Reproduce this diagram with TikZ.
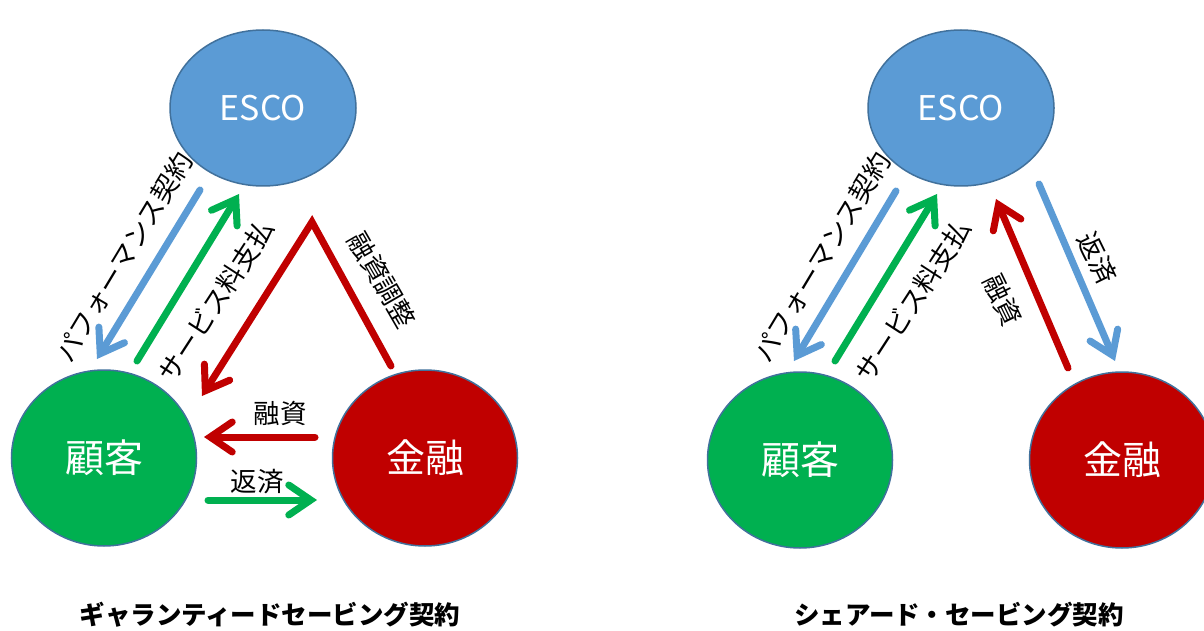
\documentclass[tikz,border=0pt]{standalone}
\usepackage{fontspec}
\setmainfont{Noto Sans CJK JP}
\usetikzlibrary{arrows.meta,shapes.geometric}
\definecolor{cblue}{HTML}{5B9BD5}
\definecolor{cgreen}{HTML}{00B050}
\definecolor{cred}{HTML}{C00000}
\definecolor{cedge}{HTML}{41719C}
\tikzset{
  party/.style={ellipse, draw=cedge, line width=1.5pt, minimum width=#1, text=white, font=\fontsize{39}{39}\selectfont},
  latinparty/.style={font=\fontsize{34}{34}\selectfont},
  flow/.style={line width=7pt, line cap=round, line join=miter, -{Straight Barb[length=22pt,width=30pt,line cap=round]}},
  lbl/.style={font=\fontsize{26.5}{26.5}\selectfont, text=black, inner sep=0pt},
  captxt/.style={font=\fontsize{25.5}{25.5}\selectfont\bfseries, inner sep=0pt}
}
\begin{document}
\begin{tikzpicture}[x=1pt,y=-1pt]
\clip (0,0) rectangle (1204,631);
\useasboundingbox (0,0) rectangle (1204,631);
\fill[white] (0,0) rectangle (1204,631);
% ---------- left diagram ----------
\node[party=186pt, minimum height=156pt, fill=cblue, latinparty] (escoL) at (263,108) {ESCO};
\node[party=185pt, minimum height=176pt, fill=cgreen] (kokyakuL) at (104,458) {顧客};
\node[party=185pt, minimum height=176pt, fill=cred] (kinyuL) at (425,458) {金融};
\coordinate (a1s) at (200,190); \coordinate (a1e) at (97,359);
\coordinate (a2s) at (137,361); \coordinate (a2e) at (239,194);
\coordinate (a3s) at (391,366); \coordinate (a3m) at (312,222); \coordinate (a3e) at (202,396);
\coordinate (a4s) at (315,437); \coordinate (a4e) at (204,437);
\coordinate (a5s) at (208,500); \coordinate (a5e) at (317,500);
\draw[flow, cblue] (a1s) -- (a1e);
\draw[flow, cgreen] (a2s) -- (a2e);
\draw[flow, cred] (a3s) -- (a3m) -- (a3e);
\draw[flow, cred] (a4s) -- (a4e);
\draw[flow, cgreen] (a5s) -- (a5e);
\node[lbl, rotate=59] (t1) at (124,257) {パフォーマンス契約};
\node[lbl, rotate=57] (t2) at (216,301) {サービス料支払};
\node[lbl, rotate=-60] (t3) at (382,280) {融資調整};
\node[lbl] (t4) at (280,413) {融資};
\node[lbl] (t5) at (257,482) {返済};
\node[captxt] (capL) at (270,615) {ギャランティードセービング契約};
% ---------- right diagram ----------
\node[party=186pt, minimum height=156pt, fill=cblue, latinparty] (escoR) at (961,108) {ESCO};
\node[party=185pt, minimum height=176pt, fill=cgreen] (kokyakuR) at (800,460) {顧客};
\node[party=185pt, minimum height=176pt, fill=cred] (kinyuR) at (1122,460) {金融};
\coordinate (b1s) at (896,191); \coordinate (b1e) at (794,361);
\coordinate (b2s) at (835,361); \coordinate (b2e) at (937,194);
\coordinate (b3s) at (1068,368); \coordinate (b3e) at (996,199);
\coordinate (b4s) at (1039,184); \coordinate (b4e) at (1115,361);
\draw[flow, cblue] (b1s) -- (b1e);
\draw[flow, cgreen] (b2s) -- (b2e);
\draw[flow, cred] (b3s) -- (b3e);
\draw[flow, cblue] (b4s) -- (b4e);
\node[lbl, rotate=59] (u1) at (822,257) {パフォーマンス契約};
\node[lbl, rotate=57] (u2) at (913,301) {サービス料支払};
\node[lbl, rotate=-64] (u3) at (1003,300) {融資};
\node[lbl, rotate=-64] (u4) at (1097,258) {返済};
\node[captxt] (capR) at (959,615) {シェアード・セービング契約};
\end{tikzpicture}
\end{document}
